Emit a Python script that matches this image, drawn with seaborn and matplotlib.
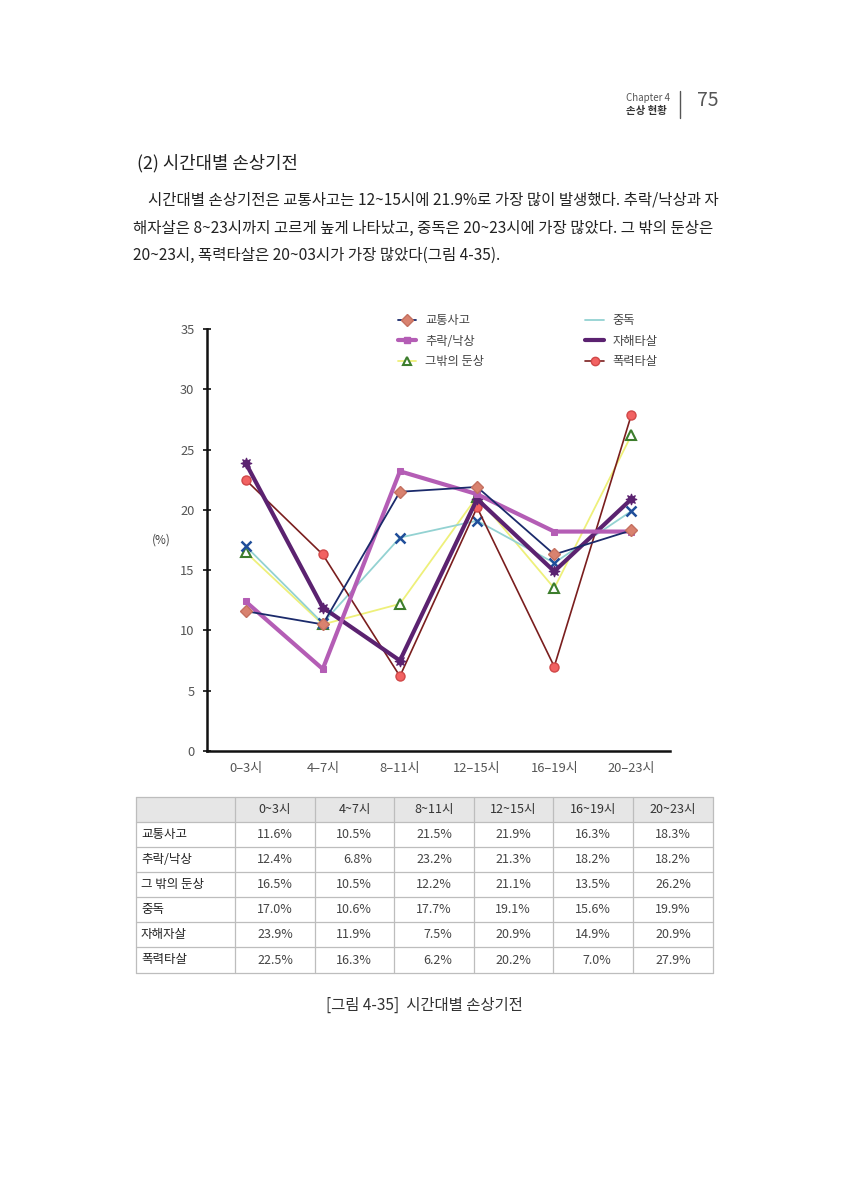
import matplotlib
matplotlib.use("Agg")
import matplotlib.pyplot as plt
from matplotlib.lines import Line2D
from matplotlib.patches import Rectangle
import seaborn as sns

# ---------------- data ----------------
hours = ["0–3시", "4–7시", "8–11시", "12–15시", "16–19시", "20–23시"]
table_hours = ["0~3시", "4~7시", "8~11시", "12~15시", "16~19시", "20~23시"]
series_names = ["교통사고", "추락/낙상", "그 밖의 둔상", "중독", "자해자살", "폭력타살"]
legend_names = ["교통사고", "추락/낙상", "그밖의 둔상", "중독", "자해타살", "폭력타살"]
traffic = [11.6, 10.5, 21.5, 21.9, 16.3, 18.3]
fall = [12.4, 6.8, 23.2, 21.3, 18.2, 18.2]
blunt = [16.5, 10.5, 12.2, 21.1, 13.5, 26.2]
poison = [17.0, 10.6, 17.7, 19.1, 15.6, 19.9]
selfharm = [23.9, 11.9, 7.5, 20.9, 14.9, 20.9]
assault = [22.5, 16.3, 6.2, 20.2, 7.0, 27.9]
yticks = [0, 5, 10, 15, 20, 25, 30, 35]

sns.set_theme(style="white")
plt.rcParams["font.family"] = ["Noto Sans CJK KR", "DejaVu Sans"]
plt.rcParams["axes.unicode_minus"] = False

W, H = 847, 1200
fig = plt.figure(figsize=(W / 100, H / 100), dpi=100)
fig.patch.set_facecolor("white")

# page overlay in pixel coordinates
page = fig.add_axes([0, 0, 1, 1], zorder=-1)
page.set_xlim(0, W)
page.set_ylim(H, 0)
page.axis("off")

# header
page.text(626, 98, "Chapter 4", fontsize=7, color="#555555", ha="left", va="center")
page.text(626, 111, "손상 현황", fontsize=7.5, color="#333333", ha="left", va="center", fontweight="bold")
page.plot([680, 680], [91, 118], color="#555555", lw=1)
page.text(697, 101, "75", fontsize=14, color="#555555", ha="left", va="center")

# section title and paragraph
page.text(137, 163, "(2) 시간대별 손상기전", fontsize=12.8, color="#222222", ha="left", va="center")
para = [
    (148, 200, "시간대별 손상기전은 교통사고는 12~15시에 21.9%로 가장 많이 발생했다. 추락/낙상과 자"),
    (133, 228, "해자살은 8~23시까지 고르게 높게 나타났고, 중독은 20~23시에 가장 많았다. 그 밖의 둔상은"),
    (133, 255, "20~23시, 폭력타살은 20~03시가 가장 많았다(그림 4-35)."),
]
for x, y, t in para:
    page.text(x, y, t, fontsize=11.15, color="#222222", ha="left", va="center")

# ---------------- chart ----------------
ax = fig.add_axes([207 / W, 1 - 751 / H, (670 - 207) / W, (751 - 329) / H])
ax.set_facecolor("none")

styles = [
    (blunt, dict(color="#EEF07A", lw=1.3, marker="^", markersize=6.5, markerfacecolor="white",
                 markeredgecolor="#3C7D2C", markeredgewidth=1.5)),
    (poison, dict(color="#93D2D2", lw=1.3, marker="x", markersize=6.5,
                  markeredgecolor="#1F4E9A", markeredgewidth=1.8)),
    (assault, dict(color="#7A1E1E", lw=1.2, marker="o", markersize=6.5, markerfacecolor="#F26262",
                   markeredgecolor="#D04848", markeredgewidth=1)),
    (selfharm, dict(color="#5B2270", lw=3, marker=(8, 1, 0), markersize=8,
                    markerfacecolor="#5B2270", markeredgecolor="#5B2270")),
    (fall, dict(color="#B45DB5", lw=3, marker="s", markersize=4.5,
                markerfacecolor="#B45DB5", markeredgecolor="#B45DB5")),
    (traffic, dict(color="#1B2A6B", lw=1.3, marker="D", markersize=6.5, markerfacecolor="#D9826F",
                   markeredgecolor="#C47060", markeredgewidth=1)),
]
for vals, kw in styles:
    sns.lineplot(x=hours, y=vals, ax=ax, sort=False, **kw)

ax.set_xlim(-0.5, 5.5)
ax.set_ylim(0, 35)
ax.set_yticks(yticks)
ax.set_xlabel("")
ax.set_ylabel("")
for s in ["top", "right"]:
    ax.spines[s].set_visible(False)
for s in ["left", "bottom"]:
    ax.spines[s].set_color("#111111")
    ax.spines[s].set_linewidth(1.8)
ax.tick_params(axis="y", direction="inout", length=6, width=1.2, color="#111111",
               labelsize=9.3, labelcolor="#555555", pad=6, left=True)
ax.tick_params(axis="x", length=0, labelsize=9.3, labelcolor="#555555", pad=8, bottom=True)
ax.grid(False)
if ax.get_legend() is not None:
    ax.get_legend().remove()

page.text(161, 540, "(%)", fontsize=8.5, color="#444444", ha="center", va="center")

# legend
handles = [
    Line2D([], [], color="#1B2A6B", lw=1.3, marker="D", markersize=6, markerfacecolor="#D9826F",
           markeredgecolor="#C47060"),
    Line2D([], [], color="#B45DB5", lw=3, marker="s", markersize=4, markerfacecolor="#B45DB5",
           markeredgecolor="#B45DB5"),
    Line2D([], [], color="#EEF07A", lw=1.3, marker="^", markersize=6, markerfacecolor="white",
           markeredgecolor="#3C7D2C", markeredgewidth=1.5),
    Line2D([], [], color="#93D2D2", lw=1.3),
    Line2D([], [], color="#5B2270", lw=3),
    Line2D([], [], color="#7A1E1E", lw=1.2, marker="o", markersize=6, markerfacecolor="#F26262",
           markeredgecolor="#D04848"),
]
fig.legend(handles, legend_names, ncol=2, loc="upper left",
           bbox_to_anchor=(398 / W, 1 - 314 / H), frameon=False, fontsize=8.8,
           handlelength=1.5, handletextpad=0.7, columnspacing=8.3, labelspacing=0.62,
           borderpad=0, borderaxespad=0, labelcolor="#444444")

# ---------------- table ----------------
xe = [136, 235, 315, 394, 474, 553, 633, 713]
ye = [797, 822, 847, 872, 897, 922, 947, 973]
page.add_patch(Rectangle((xe[0], ye[0]), xe[-1] - xe[0], ye[1] - ye[0],
                         facecolor="#E6E6E6", edgecolor="none"))
for x in xe:
    page.plot([x, x], [ye[0], ye[-1]], color="#BDBDBD", lw=0.9)
for y in ye:
    page.plot([xe[0], xe[-1]], [y, y], color="#BDBDBD", lw=0.9)

for j, h in enumerate(table_hours):
    page.text((xe[j + 1] + xe[j + 2]) / 2, (ye[0] + ye[1]) / 2, h, fontsize=9,
              color="#333333", ha="center", va="center")
all_vals = [traffic, fall, blunt, poison, selfharm, assault]
for i, (name, vals) in enumerate(zip(series_names, all_vals)):
    yc = (ye[i + 1] + ye[i + 2]) / 2
    page.text(xe[0] + 5, yc, name, fontsize=9, color="#222222", ha="left", va="center")
    for j, v in enumerate(vals):
        page.text(xe[j + 2] - 22, yc, f"{v:.1f}%", fontsize=9, color="#444444",
                  ha="right", va="center")

# caption
page.text(424, 1005, "[그림 4-35]  시간대별 손상기전", fontsize=11.1, color="#333333",
          ha="center", va="center")

fig.savefig("out.png", dpi=100, facecolor="white")
